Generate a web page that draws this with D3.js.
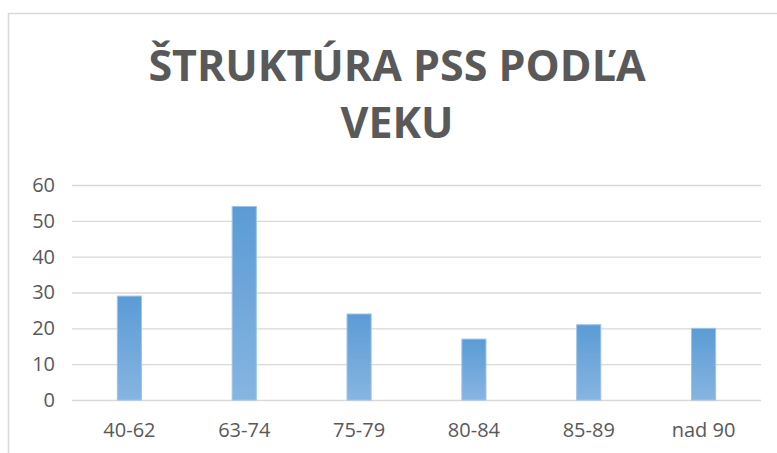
<!DOCTYPE html>
<html>
<head>
<meta charset="utf-8">
<style>
  body { margin: 0; background: #fff; }
  text { font-family: "Open Sans", sans-serif; }
</style>
</head>
<body>
<svg width="777" height="453"></svg>
<script src="https://d3js.org/d3.v7.min.js"></script>
<script>
var categories = ["40-62", "63-74", "75-79", "80-84", "85-89", "nad 90"];
var values = [29, 54, 24, 17, 21, 20];
var yTicks = [0, 10, 20, 30, 40, 50, 60];
var titleLines = ["ŠTRUKTÚRA PSS PODĽA", "VEKU"];

var svg = d3.select("svg");
var margin = {left: 72, right: 16, top: 185, bottom: 53};
var width = 777 - margin.left - margin.right;
var height = 453 - margin.top - margin.bottom;

// chart frame
svg.append("rect")
    .attr("x", 8.5).attr("y", 13.5)
    .attr("width", 820).attr("height", 500)
    .attr("fill", "none")
    .attr("stroke", "#d9d9d9")
    .attr("stroke-width", 1.5);

var defs = svg.append("defs");
var grad = defs.append("linearGradient")
    .attr("id", "barGrad")
    .attr("x1", 0).attr("y1", 0).attr("x2", 0).attr("y2", 1);
grad.append("stop").attr("offset", "0%").attr("stop-color", "#5b9bd5");
grad.append("stop").attr("offset", "100%").attr("stop-color", "#86b5e1");

svg.selectAll(".title")
    .data(titleLines)
    .enter().append("text")
    .attr("class", "title")
    .attr("x", 397)
    .attr("y", function(d, i){ return 81 + i * 57; })
    .attr("text-anchor", "middle")
    .attr("font-size", 43)
    .attr("font-weight", "bold")
    .attr("fill", "#595959")
    .text(function(d){ return d; });

var g = svg.append("g")
    .attr("transform", "translate(" + margin.left + "," + margin.top + ")");

var x = d3.scaleBand()
    .domain(categories)
    .range([0, width])
    .paddingInner(0.79)
    .paddingOuter(0.395);

var y = d3.scaleLinear()
    .domain([0, 60])
    .range([height, 0]);

var yAxis = d3.axisLeft(y)
    .tickValues(yTicks)
    .tickSize(-width)
    .tickPadding(17);

var yg = g.append("g").call(yAxis);
yg.select(".domain").remove();
yg.selectAll("line").attr("stroke", "#d9d9d9").attr("stroke-width", 1.3);
yg.selectAll("text")
    .attr("font-size", 20)
    .attr("fill", "#595959")
    .attr("font-family", "'Open Sans', sans-serif");

g.selectAll(".bar")
    .data(values)
    .enter().append("rect")
    .attr("class", "bar")
    .attr("x", function(d, i){ return x(categories[i]); })
    .attr("y", function(d){ return y(d); })
    .attr("width", x.bandwidth())
    .attr("height", function(d){ return height - y(d); })
    .attr("fill", "url(#barGrad)")
    .attr("stroke", "#9cc3e8")
    .attr("stroke-width", 1);

var xAxis = d3.axisBottom(x).tickSize(0).tickPadding(23);
var xg = g.append("g")
    .attr("transform", "translate(0," + height + ")")
    .call(xAxis);
xg.select(".domain").remove();
xg.selectAll("text")
    .attr("font-size", 20)
    .attr("fill", "#595959")
    .attr("font-family", "'Open Sans', sans-serif");
</script>
</body>
</html>
